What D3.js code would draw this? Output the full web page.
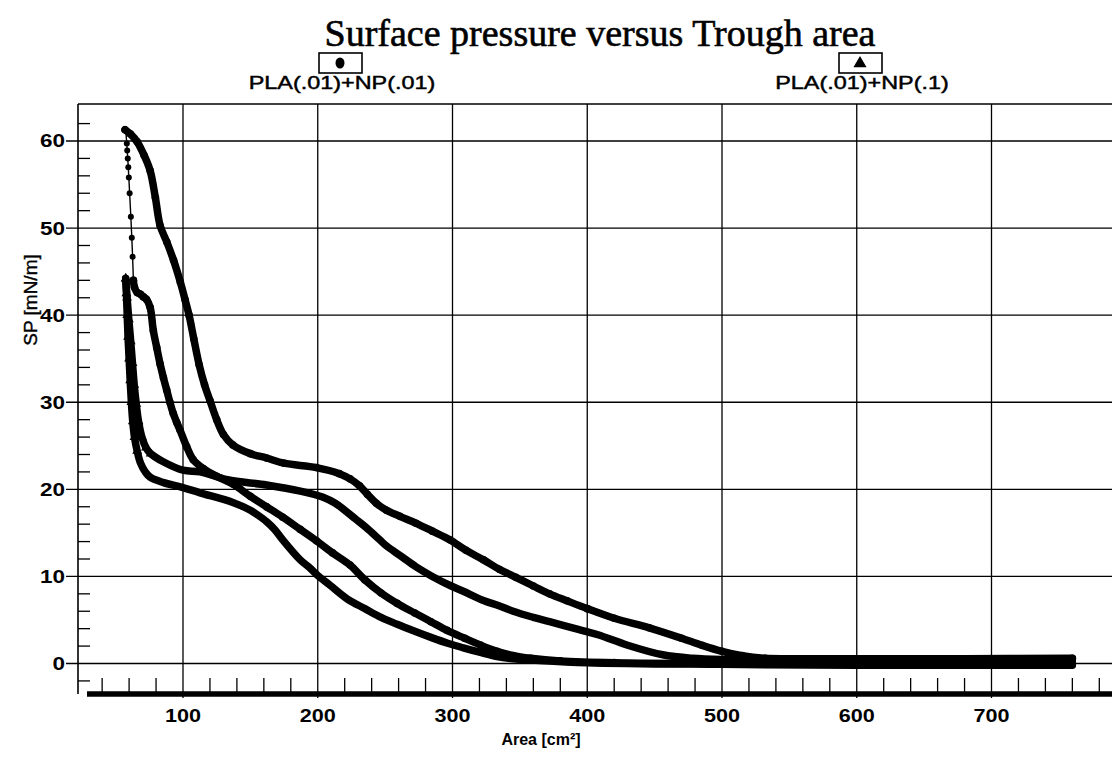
<!DOCTYPE html>
<html><head><meta charset="utf-8">
<script src="https://cdn.jsdelivr.net/npm/d3@7"></script>
<style>body{margin:0;background:#fff}svg{display:block}</style>
</head><body>
<script>
// ---- data ----
const xMajorTicks = [100,200,300,400,500,600,700];
const yMajorTicks = [0,10,20,30,40,50,60];
const seriesNames = ["PLA(.01)+NP(.01)","PLA(.01)+NP(.1)"];
// circle series: compression
const circCompArea = [57,61,66,71,75.6,79.5,83,88,93,98,101.5,104.5,108,112,116,120,125,130,137,150,162,175,199,216,224,231,237,243.5,251,261,273,285,298,310,323,335,347,360,372,385,400,420,446,470,485,500,515,532,550,600,680,760];
const circCompSP   = [61.3,60.8,59.9,58.4,56.6,53.5,50.3,48.4,46.3,43.8,41.8,40,37.3,34.3,32.0,30.2,28.0,26.3,25.1,24.1,23.6,23.0,22.5,21.8,21.2,20.4,19.4,18.4,17.6,16.9,16.1,15.2,14.2,13.0,11.9,10.8,9.9,8.9,8.0,7.2,6.3,5.2,4.1,2.9,2.1,1.4,0.9,0.6,0.55,0.55,0.55,0.6];
// circle series: fast drop after collapse
const circDropArea = [57.5,58.3,58.6,59.0,59.4,59.8,60.4,61.3,62.0,62.6,63.2];
const circDropSP   = [61.2,59.7,58.9,58.0,57.0,55.8,54.0,51.3,48.9,46.7,44.0];
// circle series: expansion
const circExpArea = [63.2,64,66,68.5,70.6,73,75.6,78,80.5,83,85.5,87.9,90.3,92.8,95.3,97.8,102.7,107.6,115,125,137,150,162,174,187,199,211,224,235,247,259,272,284,296,309,321,333,345,358,380,420,500,600,700,760];
const circExpSP   = [44,43.2,42.6,42.4,42.1,41.8,40.9,38.2,36.3,34.4,32.8,31.4,30.0,28.7,27.7,26.8,24.9,23.4,22.4,21.5,20.6,19.2,18.0,16.8,15.4,14.1,12.7,11.3,9.6,8.1,6.9,5.8,4.8,3.8,2.9,2.1,1.4,0.9,0.6,0.3,0.1,0.0,0.0,0.0,0.0];
// triangle series: compression
const triCompArea = [57.5,58.5,59.8,61.2,62.5,63.8,65.3,67,69.5,72.5,76,85,100,112.6,133,162,187,204,213,220,228,236,246,251,262,273,285,299,308,322,335,345,360,372,394,408,430,456,478,500,540,600,700,760];
const triCompSP   = [44.2,42,39.5,37,34.5,32,29.8,27.8,26,24.8,24.1,23.2,22.2,22.0,21.1,20.5,19.8,19.1,18.4,17.6,16.6,15.6,14.2,13.5,12.3,11.1,10.0,8.9,8.3,7.3,6.6,6.0,5.3,4.8,3.9,3.3,2.1,1.0,0.6,0.45,0.4,0.4,0.4,0.45];
// triangle series: expansion
const triExpArea = [57.5,58,58.6,59.2,60,60.8,61.7,62.7,64,66,68.5,72,75.6,85,100,112.6,137,150,155,162,168,174,187,194,200,209,222,235,247,259,272,284,297,308,320,333,345,360,400,500,600,700,760];
const triExpSP   = [44.2,42.5,40,37.5,35,32.5,30,27.8,26,24.4,23,22,21.4,20.8,20.2,19.6,18.5,17.6,17.1,16.3,15.4,14.2,11.9,11.0,10.1,9.0,7.4,6.3,5.3,4.5,3.7,3.0,2.3,1.8,1.3,0.8,0.55,0.4,0.1,-0.1,-0.2,-0.2,-0.2];

(function () {
// ---- layout ----
const W = 1112, H = 762;
const plotLeft = 78, plotTop = 104, bottomAxis = 694;
const svg = d3.select("body").append("svg").attr("width", W).attr("height", H);
svg.append("rect").attr("width", W).attr("height", H).attr("fill", "#fff");

const x = d3.scaleLinear().domain([100, 700]).range([183, 991.5]);
const y = d3.scaleLinear().domain([0, 60]).range([663.5, 141]);

const g = svg.append("g");
// gridlines
g.selectAll(".yg").data(yMajorTicks).join("line")
  .attr("x1", 66).attr("x2", W).attr("y1", d => y(d)).attr("y2", d => y(d))
  .attr("stroke", "#000").attr("stroke-width", 1.3);
g.selectAll(".xg").data(xMajorTicks).join("line")
  .attr("x1", d => x(d)).attr("x2", d => x(d)).attr("y1", plotTop).attr("y2", 698)
  .attr("stroke", "#000").attr("stroke-width", 1.3);
// minor y ticks
const yMinor = d3.range(-2, 63, 2).filter(v => v % 10 !== 0);
g.selectAll(".ym").data(yMinor).join("line")
  .attr("x1", plotLeft).attr("x2", plotLeft + 12).attr("y1", d => y(d)).attr("y2", d => y(d))
  .attr("stroke", "#000").attr("stroke-width", 1.3);
// minor x ticks
const xMinor = d3.range(40, 790, 20).filter(v => v % 100 !== 0);
g.selectAll(".xm").data(xMinor).join("line")
  .attr("x1", d => x(d)).attr("x2", d => x(d)).attr("y1", 678).attr("y2", bottomAxis)
  .attr("stroke", "#000").attr("stroke-width", 1.3);
// frame
g.append("line").attr("x1", plotLeft).attr("x2", plotLeft).attr("y1", plotTop).attr("y2", bottomAxis).attr("stroke", "#000").attr("stroke-width", 1.6);
g.append("line").attr("x1", plotLeft).attr("x2", W).attr("y1", plotTop).attr("y2", plotTop).attr("stroke", "#000").attr("stroke-width", 1.6);
g.append("line").attr("x1", 87).attr("x2", W).attr("y1", bottomAxis).attr("y2", bottomAxis).attr("stroke", "#000").attr("stroke-width", 5.5);

// tick labels (horizontally widened like the scanned original)
const font = "'Liberation Sans', Arial, sans-serif";
g.selectAll(".yl").data(yMajorTicks).join("text")
  .attr("transform", d => `translate(65,${y(d)}) scale(1.25,1)`).attr("dy", "0.36em").attr("text-anchor", "end")
  .attr("font-family", font).attr("font-weight", "bold").attr("font-size", 18).text(d => d);
g.selectAll(".xl").data(xMajorTicks).join("text")
  .attr("transform", d => `translate(${x(d)},722) scale(1.2,1)`).attr("text-anchor", "middle")
  .attr("font-family", font).attr("font-weight", "bold").attr("font-size", 18).text(d => d);
svg.append("text").attr("x", 541).attr("y", 745).attr("text-anchor", "middle")
  .attr("font-family", font).attr("font-weight", "bold").attr("font-size", 16).text("Area [cm²]");
svg.append("text").attr("transform", "translate(37,300) rotate(-90)").attr("text-anchor", "middle")
  .attr("font-family", font).attr("font-size", 19).attr("stroke", "#000").attr("stroke-width", 0.4).text("SP [mN/m]");
// title
svg.append("text").attr("x", 600).attr("y", 46).attr("text-anchor", "middle")
  .attr("font-family", "'Liberation Serif', 'Times New Roman', serif").attr("font-size", 38)
  .attr("stroke", "#000").attr("stroke-width", 0.6).text("Surface pressure versus Trough area");

// legend
const legX = [340, 860];
legX.forEach((cx, i) => {
  svg.append("rect").attr("x", cx - 21).attr("y", 53).attr("width", 43).attr("height", 20)
    .attr("fill", "#fff").attr("stroke", "#000").attr("stroke-width", 1.6);
  if (i === 0) svg.append("ellipse").attr("cx", cx).attr("cy", 63).attr("rx", 4.5).attr("ry", 5.5).attr("fill", "#000");
  else svg.append("path").attr("d", d3.symbol(d3.symbolTriangle, 75)()).attr("transform", `translate(${cx},63.5)`).attr("fill", "#000");
  svg.append("text").attr("transform", `translate(${cx + 2},89) scale(1.3,1)`).attr("text-anchor", "middle")
    .attr("font-family", font).attr("font-size", 18).attr("stroke", "#000").attr("stroke-width", 0.45).text(seriesNames[i]);
});

// curves
const line = d3.line().x(d => x(d[0])).y(d => y(d[1])).curve(d3.curveCatmullRom.alpha(0.5));
function zip(a, b) { return a.map((v, i) => [v, b[i]]); }
const thick = [
  [zip(circCompArea, circCompSP), "c"],
  [zip(circExpArea, circExpSP), "c"],
  [zip(triCompArea, triCompSP), "t"],
  [zip(triExpArea, triExpSP), "t"]
];
const cg = svg.append("g");
thick.forEach(([pts, kind]) => {
  cg.append("path").attr("d", line(pts)).attr("fill", "none").attr("stroke", "#000")
    .attr("stroke-width", 7.5).attr("stroke-linejoin", "round").attr("stroke-linecap", "round");
  if (kind === "t") {
    cg.selectAll(null).data(pts.filter(p => p[1] > 24)).join("path")
      .attr("d", d3.symbol(d3.symbolTriangle, 42)())
      .attr("transform", p => `translate(${x(p[0])},${y(p[1])})`).attr("fill", "#000");
  } else {
    cg.selectAll(null).data(pts).join("circle")
      .attr("cx", p => x(p[0])).attr("cy", p => y(p[1])).attr("r", 3.8).attr("fill", "#000");
  }
});
const drop = zip(circDropArea, circDropSP);
cg.append("path").attr("d", d3.line().x(d => x(d[0])).y(d => y(d[1]))(drop))
  .attr("fill", "none").attr("stroke", "#000").attr("stroke-width", 1.4);
cg.selectAll(null).data(drop).join("circle")
  .attr("cx", p => x(p[0])).attr("cy", p => y(p[1])).attr("r", 3).attr("fill", "#000");
})();
</script>
</body></html>
